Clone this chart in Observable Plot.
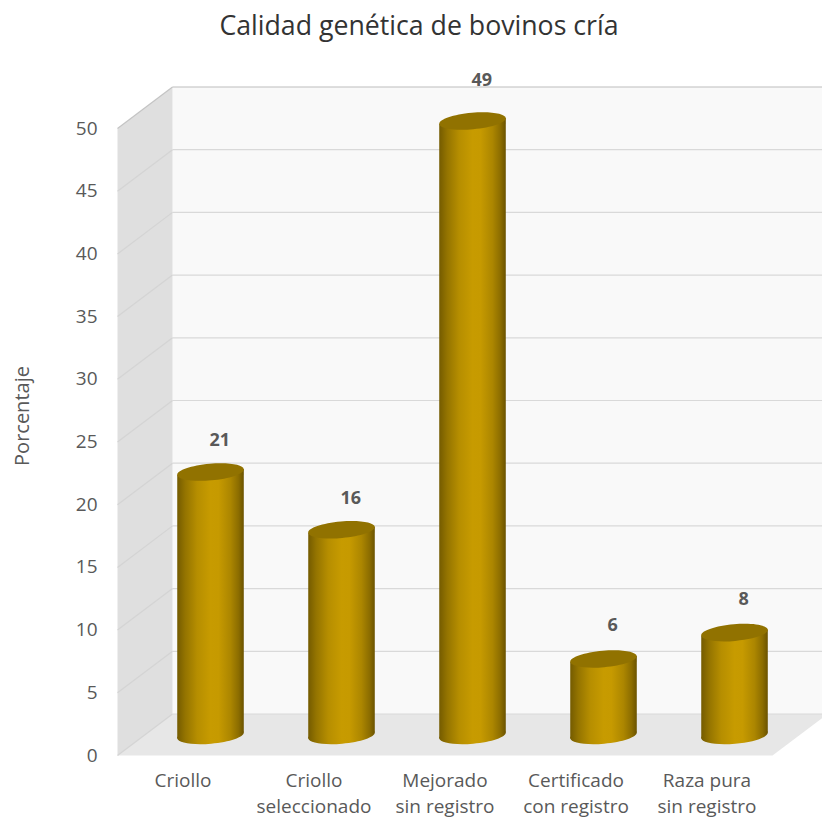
<!DOCTYPE html>
<html lang="es">
<head>
<meta charset="utf-8">
<title>Calidad genética de bovinos cría</title>
<script src="https://cdn.jsdelivr.net/npm/d3@7"></script>
<script src="https://cdn.jsdelivr.net/npm/@observablehq/plot@0.6"></script>
<style>
  html, body { margin: 0; padding: 0; background: #fff; overflow: hidden; }
  #title { height: 62px; padding-left: 16px; text-align: center;
           font: 26.7px/49px "Open Sans", sans-serif; color: #333; box-sizing: border-box; }
  svg.plot, svg { display: block; }
</style>
</head>
<body>
<div id="title">Calidad genética de bovinos cría</div>
<div id="chart"></div>
<script>
const categories = ["Criollo", "Criollo\nseleccionado", "Mejorado\nsin registro", "Certificado\ncon registro", "Raza pura\nsin registro"];
const values = [21, 16.4, 49, 6.1, 8.2];
const valueLabels = ["21", "16", "49", "6", "8"];
const labelHeights = [25.15, 20.5, 53.85, 10.35, 12.45];
const yTicks = [0, 5, 10, 15, 20, 25, 30, 35, 40, 45, 50];
const yLabel = "Porcentaje";

// Oblique projection of the 3-D box, in data units
const depthX = 0.42, depthY = 3.31;
const cylX = 0.21, cylY = 1.6, cylHalf = 0.254, cylTilt = 0.24;
const nCat = categories.length;
const topV = yTicks[yTicks.length - 1];

const rows = categories.map((c, i) => ({
  c, i, v: values[i], label: valueLabels[i], at: labelHeights[i],
  cx: i + 0.5 + cylX, cy: cylY
}));

const sideWall = [
  {x: 0, y: 0}, {x: depthX, y: depthY}, {x: depthX, y: topV + depthY}, {x: 0, y: topV}
];
const backWall = [
  {x: depthX, y: depthY}, {x: nCat + depthX, y: depthY},
  {x: nCat + depthX, y: topV + depthY}, {x: depthX, y: topV + depthY}
];
const floor = [
  {x: 0, y: 0}, {x: nCat, y: 0}, {x: nCat + depthX, y: depthY}, {x: depthX, y: depthY}
];
const cylBody = rows.flatMap(d => [
  {c: d.c, x: d.cx - cylHalf, y: d.cy - cylTilt},
  {c: d.c, x: d.cx + cylHalf, y: d.cy + cylTilt},
  {c: d.c, x: d.cx + cylHalf, y: d.cy + d.v + cylTilt},
  {c: d.c, x: d.cx - cylHalf, y: d.cy + d.v - cylTilt}
]);

// Ellipse symbol for the cylinder caps
function ellipseSymbol(rx, ry) {
  const k = 0.5523;
  return {
    draw(ctx) {
      ctx.moveTo(-rx, 0);
      ctx.bezierCurveTo(-rx, -ry * k, -rx * k, -ry, 0, -ry);
      ctx.bezierCurveTo(rx * k, -ry, rx, -ry * k, rx, 0);
      ctx.bezierCurveTo(rx, ry * k, rx * k, ry, 0, ry);
      ctx.bezierCurveTo(-rx * k, ry, -rx, ry * k, -rx, 0);
      ctx.closePath();
    }
  };
}
const cap = ellipseSymbol(33.4, 8.3);

const gradientDefs = () => {
  const defs = d3.create("svg:defs");
  const g = defs.append("linearGradient").attr("id", "cyl")
    .attr("x1", 0).attr("x2", 1).attr("y1", 0).attr("y2", 0);
  [[0, "#745b00"], [0.12, "#947400"], [0.3, "#b68e00"], [0.5, "#c79b00"], [0.62, "#c69a00"],
   [0.8, "#ac8600"], [0.92, "#8c6d00"], [1, "#6b5300"]]
    .forEach(([o, c]) => g.append("stop").attr("offset", o).attr("stop-color", c));
  return defs.node();
};

const plot = Plot.plot({
  width: 822,
  height: 757,
  marginLeft: 117,
  marginRight: 50,
  marginTop: 66,
  marginBottom: 64,
  x: {domain: [0, nCat], axis: null},
  y: {domain: [0, topV], axis: null},
  style: {background: "transparent"},
  marks: [
    gradientDefs,
    Plot.line(backWall, {x: "x", y: "y", fill: "#f9f9f9", stroke: "none"}),
    Plot.line(sideWall, {x: "x", y: "y", fill: "#dfdfdf", stroke: "none"}),
    Plot.line(floor, {x: "x", y: "y", fill: "#e7e7e7", stroke: "none"}),
    Plot.link(yTicks, {x1: 0, y1: d => d, x2: depthX, y2: d => d + depthY,
      stroke: d => d === topV ? "#c4c4c4" : "#d4d4d4", strokeWidth: 1.2}),
    Plot.link(yTicks, {x1: depthX, y1: d => d + depthY, x2: nCat + depthX, y2: d => d + depthY,
      stroke: d => d === topV ? "#bdbdbd" : "#d9d9d9", strokeWidth: 1.2}),
    // cylinders
    Plot.dot(rows, {x: "cx", y: "cy", symbol: cap, r: 1, rotate: -5, fill: "url(#cyl)", stroke: "none"}),
    Plot.line(cylBody, {x: "x", y: "y", z: "c", fill: "url(#cyl)", stroke: "none"}),
    Plot.dot(rows, {x: "cx", y: d => d.cy + d.v, symbol: cap, r: 1, rotate: -5, fill: "#917200", stroke: "none"}),
    // value labels
    Plot.text(rows, {x: d => d.i + 0.5 + cylX + 0.07, y: "at", text: "label",
      fontSize: 18, fontWeight: 700, fontFamily: "'Open Sans', sans-serif", fill: "#595959"}),
    // axes
    Plot.axisY({
      ticks: yTicks, tickSize: 0, tickPadding: 20, fontSize: 19,
      fontFamily: "'Open Sans', sans-serif", color: "#595959", stroke: "none",
      label: null
    }),
    Plot.text([yLabel], {frameAnchor: "left", textAnchor: "middle", dx: -95, dy: -26, rotate: -90, text: d => d,
      fontSize: 20, fontFamily: "'Open Sans', sans-serif", fill: "#595959"}),
    Plot.axisX({
      ticks: categories.map((c, i) => i + 0.5),
      tickFormat: v => categories[Math.floor(v)],
      tickSize: 0, tickPadding: 13, fontSize: 19, lineHeight: 1.36,
      fontFamily: "'Open Sans', sans-serif", color: "#595959", stroke: "none",
      label: null
    })
  ]
});
document.getElementById("chart").appendChild(plot);
</script>
</body>
</html>
